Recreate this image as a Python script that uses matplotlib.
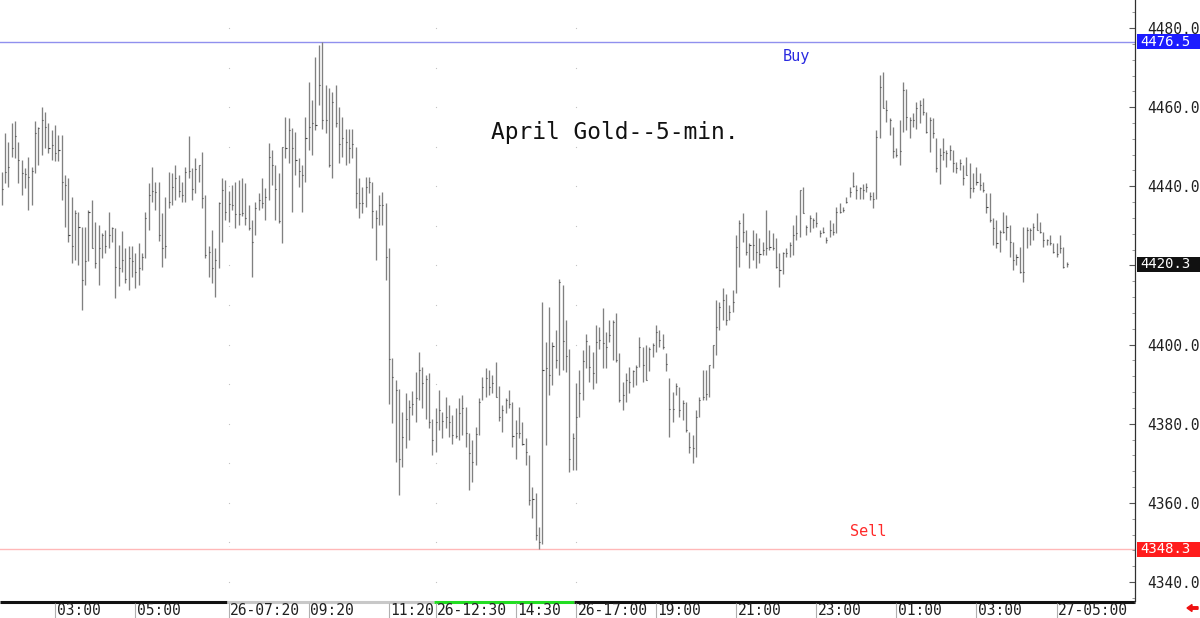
import numpy as np
import matplotlib
matplotlib.use("Agg")
import matplotlib.pyplot as plt
from matplotlib.patches import FancyArrow, Rectangle
from matplotlib.transforms import IdentityTransform, blended_transform_factory
from matplotlib.ticker import MultipleLocator, FuncFormatter

# ---------------- data (5-min OHLC bars) ----------------
highs = [
    4443.7, 4453.4, 4451.3, 4455.9, 4456.4, 4451.3, 4446.7, 4444.6, 4447.5, 4445.0,
    4456.4, 4455.1, 4460.1, 4458.9, 4455.9, 4454.3, 4455.5, 4453.0, 4453.0, 4442.9,
    4442.0, 4437.4, 4434.0, 4433.6, 4429.8, 4429.8, 4434.0, 4436.6, 4431.1, 4430.2,
    4428.1, 4429.0, 4433.6, 4429.8, 4429.4, 4425.2, 4428.6, 4424.3, 4424.8, 4424.8,
    4423.1, 4425.6, 4423.1, 4433.6, 4440.8, 4445.0, 4441.2, 4441.0, 4433.2, 4437.2,
    4443.7, 4443.3, 4445.4, 4442.9, 4441.2, 4445.0, 4452.6, 4444.6, 4447.1, 4445.4,
    4448.6, 4437.8, 4424.8, 4429.0, 4424.3, 4436.1, 4442.0, 4441.6, 4438.7, 4440.4,
    4441.2, 4441.6, 4442.0, 4440.8, 4435.3, 4431.5, 4436.1, 4438.2, 4442.0, 4439.5,
    4450.9, 4449.2, 4445.4, 4443.3, 4450.0, 4457.4, 4457.2, 4454.7, 4453.8, 4447.1,
    4445.4, 4457.4, 4466.4, 4461.8, 4472.8, 4475.7, 4476.5, 4465.6, 4464.8, 4463.9,
    4465.6, 4460.1, 4457.6, 4454.6, 4454.6, 4454.6, 4450.0, 4442.0, 4439.9, 4442.4,
    4442.4, 4441.2, 4434.0, 4437.8, 4438.6, 4435.7, 4424.3, 4396.5, 4391.0, 4388.9,
    4383.0, 4387.7, 4386.0, 4388.3, 4393.1, 4398.2, 4394.4, 4392.3, 4392.7, 4381.3,
    4383.9, 4388.5, 4383.0, 4386.8, 4384.7, 4382.2, 4383.9, 4386.4, 4387.2, 4384.3,
    4377.6, 4375.9, 4379.2, 4386.4, 4391.9, 4394.0, 4393.6, 4392.3, 4395.7, 4389.5,
    4384.7, 4386.4, 4388.5, 4385.6, 4380.9, 4384.3, 4380.5, 4376.3, 4372.1, 4364.1,
    4362.4, 4354.0, 4410.8, 4400.7, 4409.6, 4400.7, 4403.7, 4416.5, 4415.0, 4406.2,
    4399.0, 4377.6, 4390.2, 4393.6, 4398.6, 4402.8, 4399.9, 4398.2, 4404.9, 4404.5,
    4409.2, 4403.3, 4406.2, 4406.2, 4408.1, 4397.8, 4390.6, 4392.7, 4394.4, 4393.6,
    4394.8, 4402.0, 4399.5, 4399.9, 4399.5, 4400.3, 4404.9, 4403.7, 4402.8, 4397.9,
    4391.5, 4388.1, 4390.2, 4389.4, 4386.0, 4385.6, 4378.0, 4377.1, 4383.5, 4386.8,
    4393.6, 4393.6, 4394.8, 4399.9, 4411.3, 4410.8, 4414.2, 4412.9, 4410.0, 4413.8,
    4427.7, 4431.5, 4433.2, 4428.9, 4425.6, 4428.9, 4428.1, 4426.9, 4426.0, 4434.0,
    4428.9, 4428.1, 4426.9, 4423.1, 4423.3, 4424.3, 4426.0, 4430.2, 4432.7, 4439.1,
    4439.9, 4430.2, 4432.7, 4431.9, 4433.6, 4428.9, 4429.8, 4427.3, 4431.5, 4430.6,
    4434.8, 4435.7, 4434.8, 4437.4, 4439.9, 4443.7, 4440.3, 4439.9, 4440.7, 4440.9,
    4438.6, 4438.6, 4454.2, 4468.1, 4469.0, 4461.8, 4457.2, 4455.1, 4449.6, 4456.7,
    4466.4, 4464.7, 4457.6, 4458.4, 4461.4, 4461.8, 4462.2, 4458.8, 4457.6, 4457.2,
    4452.1, 4449.6, 4452.1, 4449.2, 4450.4, 4449.2, 4446.2, 4446.8, 4445.4, 4447.5,
    4445.8, 4443.3, 4444.9, 4443.3, 4441.2, 4438.2, 4438.2, 4431.9, 4431.5, 4428.9,
    4433.6, 4432.7, 4430.2, 4426.0, 4423.0, 4424.7, 4429.8, 4429.8, 4429.4, 4430.6,
    4433.2, 4431.1, 4428.5, 4426.8, 4427.7, 4425.6, 4425.6, 4427.7, 4424.7, 4420.9,
]

lows = [
    4435.3, 4440.8, 4439.9, 4447.5, 4447.1, 4440.8, 4437.8, 4439.5, 4434.0, 4435.3,
    4443.3, 4445.4, 4447.9, 4449.6, 4448.4, 4446.7, 4446.3, 4446.3, 4436.6, 4429.8,
    4426.0, 4420.6, 4421.4, 4420.1, 4408.8, 4415.1, 4421.0, 4424.3, 4419.3, 4415.1,
    4421.8, 4423.1, 4424.3, 4426.0, 4411.7, 4414.7, 4418.4, 4415.5, 4413.8, 4417.2,
    4414.2, 4415.1, 4418.9, 4421.8, 4429.0, 4436.1, 4434.0, 4426.3, 4419.7, 4421.8,
    4434.4, 4435.3, 4436.6, 4437.4, 4436.1, 4436.1, 4442.0, 4436.6, 4438.2, 4441.2,
    4434.4, 4421.8, 4417.2, 4415.5, 4412.1, 4419.3, 4426.0, 4431.5, 4431.1, 4434.0,
    4429.4, 4430.2, 4432.4, 4430.2, 4429.0, 4417.2, 4427.7, 4434.0, 4434.4, 4431.5,
    4436.6, 4440.4, 4431.5, 4430.7, 4425.6, 4447.1, 4445.8, 4433.6, 4442.9, 4439.9,
    4433.6, 4441.2, 4449.2, 4447.9, 4454.2, 4460.5, 4454.6, 4453.4, 4444.9, 4442.0,
    4455.1, 4445.8, 4447.5, 4445.4, 4445.8, 4447.1, 4434.4, 4431.9, 4433.2, 4434.8,
    4438.2, 4429.4, 4421.4, 4430.2, 4430.2, 4416.3, 4384.9, 4380.1, 4370.4, 4362.1,
    4369.1, 4373.8, 4375.9, 4382.2, 4380.5, 4386.0, 4383.9, 4381.3, 4378.8, 4372.1,
    4372.9, 4378.4, 4376.3, 4378.8, 4376.7, 4375.0, 4376.3, 4375.9, 4377.1, 4374.2,
    4363.2, 4365.3, 4369.6, 4377.1, 4386.0, 4386.8, 4387.2, 4387.7, 4386.8, 4380.8,
    4378.0, 4382.6, 4383.9, 4374.2, 4371.2, 4376.3, 4374.6, 4369.6, 4359.4, 4356.1,
    4350.6, 4348.3, 4349.5, 4374.6, 4387.2, 4389.8, 4394.0, 4392.3, 4393.6, 4393.1,
    4367.9, 4368.3, 4368.3, 4381.8, 4386.0, 4394.0, 4390.6, 4388.9, 4390.4, 4399.0,
    4394.0, 4394.0, 4400.7, 4396.1, 4395.7, 4385.6, 4383.5, 4385.6, 4387.7, 4389.4,
    4389.8, 4394.4, 4390.6, 4391.0, 4393.2, 4396.9, 4398.2, 4399.5, 4399.0, 4393.2,
    4376.7, 4380.5, 4387.3, 4381.8, 4380.9, 4378.0, 4372.5, 4370.0, 4371.7, 4381.8,
    4386.0, 4386.0, 4386.8, 4394.0, 4397.4, 4403.7, 4406.2, 4404.9, 4406.2, 4408.3,
    4413.0, 4419.7, 4426.0, 4422.6, 4419.3, 4421.4, 4419.3, 4420.5, 4422.6, 4422.6,
    4423.9, 4423.9, 4419.3, 4414.6, 4417.8, 4422.2, 4422.2, 4422.6, 4426.4, 4427.3,
    4433.2, 4427.7, 4428.5, 4429.4, 4429.8, 4427.3, 4428.1, 4425.6, 4427.3, 4427.7,
    4428.1, 4433.2, 4433.6, 4435.7, 4437.4, 4439.9, 4436.9, 4436.9, 4436.9, 4438.6,
    4436.5, 4434.4, 4436.9, 4452.1, 4459.7, 4456.3, 4453.0, 4447.1, 4447.5, 4445.4,
    4453.8, 4454.2, 4452.1, 4455.1, 4454.6, 4455.9, 4458.0, 4453.4, 4448.7, 4452.1,
    4443.7, 4440.7, 4446.6, 4445.0, 4446.6, 4443.7, 4443.3, 4444.1, 4440.3, 4442.9,
    4437.0, 4438.6, 4440.3, 4439.1, 4438.6, 4433.2, 4431.0, 4425.2, 4424.3, 4423.5,
    4428.1, 4426.4, 4422.2, 4418.8, 4420.1, 4418.0, 4415.9, 4424.3, 4425.2, 4426.4,
    4428.9, 4428.1, 4424.7, 4425.2, 4425.2, 4423.1, 4422.2, 4423.1, 4419.3, 4419.7,
]

closes = [
    4439.3, 4443.6, 4445.0, 4449.8, 4452.6, 4446.7, 4443.3, 4443.1, 4442.3, 4443.9,
    4453.4, 4454.7, 4456.8, 4454.9, 4449.6, 4450.5, 4448.4, 4449.2, 4441.0, 4440.4,
    4427.7, 4424.8, 4433.2, 4429.8, 4416.3, 4421.0, 4433.6, 4424.3, 4420.6, 4424.3,
    4427.7, 4424.8, 4427.7, 4429.4, 4419.7, 4419.3, 4421.4, 4416.5, 4421.8, 4421.0,
    4418.4, 4419.3, 4422.2, 4431.9, 4437.8, 4438.7, 4438.5, 4427.7, 4424.5, 4424.8,
    4436.0, 4439.7, 4442.0, 4438.7, 4437.8, 4443.6, 4443.9, 4439.3, 4444.4, 4445.4,
    4437.0, 4422.7, 4423.5, 4419.3, 4421.4, 4435.7, 4439.1, 4433.6, 4435.5, 4435.3,
    4433.0, 4433.0, 4433.2, 4432.1, 4429.4, 4426.0, 4434.6, 4436.6, 4435.7, 4437.4,
    4447.5, 4445.4, 4439.3, 4431.3, 4450.0, 4449.6, 4454.3, 4449.8, 4446.7, 4443.9,
    4442.9, 4452.1, 4455.1, 4455.9, 4455.5, 4465.6, 4456.7, 4456.7, 4445.4, 4461.4,
    4455.9, 4450.8, 4452.1, 4451.3, 4449.8, 4450.8, 4438.2, 4435.9, 4435.7, 4439.9,
    4441.2, 4433.7, 4432.1, 4435.3, 4435.4, 4422.2, 4396.3, 4391.9, 4388.5, 4371.2,
    4376.7, 4381.3, 4384.3, 4384.9, 4386.4, 4393.6, 4390.2, 4391.3, 4380.5, 4375.9,
    4380.5, 4383.5, 4380.7, 4381.8, 4380.5, 4377.1, 4376.9, 4382.6, 4383.9, 4377.6,
    4372.5, 4370.4, 4377.3, 4385.6, 4389.3, 4391.5, 4389.3, 4390.2, 4386.8, 4381.8,
    4383.5, 4386.1, 4385.1, 4376.9, 4377.6, 4377.6, 4375.0, 4372.9, 4360.7, 4360.9,
    4352.0, 4350.2, 4393.6, 4394.0, 4392.3, 4399.6, 4396.1, 4415.9, 4401.0, 4397.1,
    4371.2, 4376.5, 4381.8, 4387.7, 4395.9, 4401.0, 4394.4, 4392.9, 4400.7, 4401.2,
    4400.3, 4399.5, 4402.4, 4405.8, 4396.1, 4386.0, 4387.3, 4391.0, 4390.6, 4393.2,
    4394.4, 4399.5, 4394.8, 4391.0, 4399.0, 4399.9, 4403.3, 4401.2, 4399.5, 4395.1,
    4383.6, 4383.6, 4389.5, 4383.5, 4385.3, 4378.4, 4374.2, 4373.8, 4381.8, 4386.0,
    4386.8, 4387.5, 4394.8, 4399.9, 4404.5, 4409.6, 4411.3, 4406.2, 4408.3, 4410.8,
    4424.7, 4430.8, 4428.5, 4423.5, 4425.2, 4425.2, 4423.5, 4422.9, 4423.9, 4424.3,
    4424.7, 4424.3, 4419.7, 4418.8, 4423.2, 4423.2, 4425.2, 4427.7, 4428.1, 4439.1,
    4433.2, 4429.8, 4431.9, 4431.5, 4430.6, 4428.1, 4428.5, 4426.4, 4428.9, 4428.5,
    4433.6, 4433.6, 4434.0, 4436.1, 4438.6, 4440.1, 4439.1, 4439.5, 4439.1, 4439.9,
    4437.5, 4436.9, 4452.5, 4465.2, 4459.7, 4459.3, 4456.7, 4448.8, 4447.9, 4448.8,
    4464.3, 4457.6, 4456.7, 4456.7, 4459.7, 4460.5, 4458.8, 4453.8, 4456.7, 4453.4,
    4444.5, 4447.9, 4448.7, 4448.3, 4449.2, 4445.8, 4444.5, 4445.8, 4442.0, 4442.9,
    4439.5, 4439.5, 4441.2, 4440.3, 4439.1, 4434.8, 4431.5, 4429.4, 4425.6, 4428.5,
    4428.5, 4429.8, 4426.0, 4421.4, 4422.2, 4418.4, 4418.4, 4428.9, 4428.9, 4429.8,
    4428.9, 4428.5, 4426.4, 4426.4, 4425.6, 4423.5, 4423.0, 4424.3, 4419.7, 4420.3,
]

tick_bars = [16, 40, 68, 92, 116, 130, 154, 172, 196, 220, 244, 268, 292, 316]
tick_labels = ["03:00", "05:00", "26-07:20", "09:20", "11:20", "26-12:30", "14:30",
               "26-17:00", "19:00", "21:00", "23:00", "01:00", "03:00", "27-05:00"]
grid_bars = [68, 130, 172]

buy_level = 4476.5
sell_level = 4348.3
last_price = 4420.3
title = "April Gold--5-min."

# ---------------- figure ----------------
W, H = 1200, 618
fig = plt.figure(figsize=(W / 100, H / 100), dpi=100)
fig.patch.set_facecolor("white")

plot_right = 1135
plot_bottom = 601
ax = fig.add_axes([0, (H - plot_bottom) / H, plot_right / W, plot_bottom / H])
ax.set_facecolor("white")

x = np.arange(len(highs))
ax.set_xlim(-0.51, 339.5)
ax.set_ylim(4335.2, 4487.08)

mono = "DejaVu Sans Mono"

# faint dotted grid at session separators
for gb in grid_bars:
    ax.plot([gb] * 15, np.arange(4340, 4490, 10), ls="none", marker="s", ms=0.8,
            color="#c4c4c4", mec="none")

# buy/sell lines
ax.axhline(buy_level, color="#9090ee", lw=1.0, zorder=1)
ax.axhline(sell_level, color="#ffb8b8", lw=1.0, zorder=1)

# OHLC bars
bar_col = "#808080"
ax.vlines(x, lows, highs, color=bar_col, lw=0.95, zorder=3)
ax.hlines(closes, x, x + 0.32, color="#444444", lw=0.8, zorder=3)

# spines / ticks
for s in ["left", "top", "bottom"]:
    ax.spines[s].set_visible(False)
ax.spines["right"].set_color("#303030")
ax.spines["right"].set_linewidth(0.9)
ax.set_xticks([])
ax.yaxis.tick_right()
ax.yaxis.set_major_locator(MultipleLocator(20))
ax.yaxis.set_minor_locator(MultipleLocator(4))
ax.yaxis.set_major_formatter(
    FuncFormatter(lambda v, p: "" if abs(v - round(last_price, -1)) < 1e-6 else f"{v:.1f}"))
ax.tick_params(axis="y", which="major", direction="in", length=4, width=0.8,
               color="#555555", labelsize=10.5, labelcolor="#202020", pad=9)
ax.tick_params(axis="y", which="minor", direction="in", length=2, width=0.6,
               color="#888888")
for lab in ax.get_yticklabels():
    lab.set_family(mono)

# price boxes on right axis
tr = blended_transform_factory(ax.transAxes, ax.transData)
box_x0 = 1.0 + 2 / plot_right
box_w = (W - plot_right - 2) / plot_right
box_h = 15 / 3.957
for lvl, fc in [(buy_level, "#1c1cff"), (last_price, "#111111"), (sell_level, "#ff1c1c")]:
    ax.add_patch(Rectangle((box_x0, lvl - box_h / 2), box_w, box_h, transform=tr,
                           fc=fc, ec="none", clip_on=False, zorder=9))
    ax.text(1.0 + 5 / plot_right, lvl, f"{lvl:.1f}", transform=tr, ha="left", va="center",
            fontsize=10, family=mono, color="white", zorder=10, clip_on=False)

# title and labels
ax.text(615 / plot_right, (plot_bottom - 132) / plot_bottom, title, transform=ax.transAxes,
        ha="center", va="center", fontsize=16.5, family=mono, color="#111111")
ax.text(796 / plot_right, (plot_bottom - 57) / plot_bottom, "Buy", transform=ax.transAxes,
        ha="center", va="center", fontsize=11, family=mono, color="#2a2ae0")
ax.text(868 / plot_right, (plot_bottom - 532) / plot_bottom, "Sell", transform=ax.transAxes,
        ha="center", va="center", fontsize=11, family=mono, color="#ff2a2a")

# ---------------- bottom time strip ----------------
ax2 = fig.add_axes([0, 0, plot_right / W, (H - plot_bottom) / H])
ax2.set_xlim(ax.get_xlim())
ax2.set_ylim(0, 1)
ax2.axis("off")
segs = [(-0.51, 67.4, "#111111"), (67.4, 129.5, "#c8c8c8"),
        (129.5, 171.5, "#22dd22"), (171.5, 339.5, "#111111")]
for a, b, c in segs:
    ax2.plot([a, b], [0.97, 0.97], color=c, lw=2.2, solid_capstyle="butt", clip_on=False)
ax2.vlines(tick_bars, 0, 0.9, color="#b0b0b0", lw=0.8)
for tb, tl in zip(tick_bars, tick_labels):
    ax2.text(tb + 0.5, 0.42, tl, ha="left", va="center", fontsize=10.5,
             family=mono, color="#202020")
ax2.vlines([339.3], 0.9, 1.0, color="#303030", lw=0.9, clip_on=False)

# red arrow bottom-right
fig.add_artist(FancyArrow(1198, 10, -11, 0, width=2.5, head_width=7, head_length=5,
                          length_includes_head=True, color="#ee1111",
                          transform=IdentityTransform()))

fig.savefig("out.png", dpi=100)
